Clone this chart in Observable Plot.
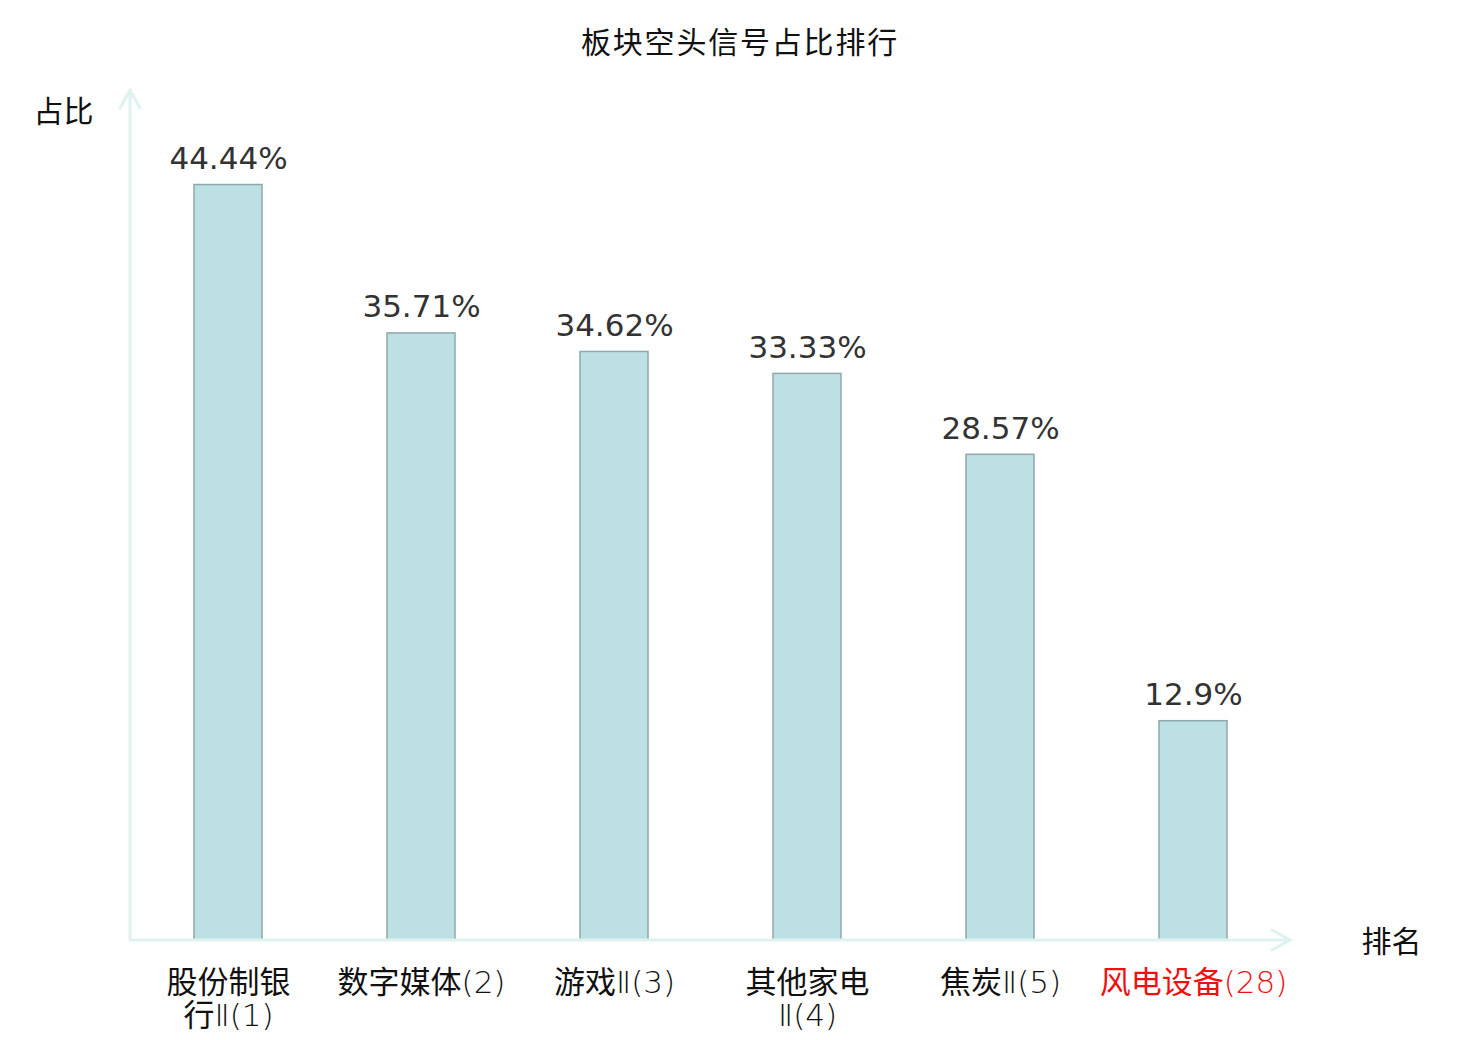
<!DOCTYPE html>
<html><head><meta charset="utf-8">
<script src="https://cdn.jsdelivr.net/npm/d3@7"></script>
<script src="https://cdn.jsdelivr.net/npm/@observablehq/plot@0.6"></script>
<style>
body{margin:0;background:#fff;font-family:"DejaVu Sans","Noto Sans CJK SC",sans-serif;}
#title{height:70px;line-height:80px;text-align:center;font-size:30px;color:#111;letter-spacing:1.8px;font-family:"Noto Sans CJK SC",sans-serif;}
.latin{font-family:"DejaVu Sans";font-weight:200;}
</style></head>
<body>
<div id="title">板块空头信号占比排行</div>
<div id="chart"></div>
<script>
const categories = ["股份制银行Ⅱ(1)", "数字媒体(2)", "游戏Ⅱ(3)", "其他家电Ⅱ(4)", "焦炭Ⅱ(5)", "风电设备(28)"];
const tickLabels = ["股份制银\n行Ⅱ(1)", "数字媒体(2)", "游戏Ⅱ(3)", "其他家电\nⅡ(4)", "焦炭Ⅱ(5)", "风电设备(28)"];
const values = [44.44, 35.71, 34.62, 33.33, 28.57, 12.9];
const highlighted = ["风电设备(28)"];
const yAxisName = "占比";
const xAxisName = "排名";

const data = categories.map((c, i) => ({cat: c, label: tickLabels[i], value: values[i]}));
const axisColor = "#dff2ef";

function axesArrows(index, scales, values, dim) {
  const g = d3.create("svg:g").attr("fill", "none").attr("stroke", axisColor).attr("stroke-width", 3).attr("stroke-linecap", "round");
  const x0 = dim.marginLeft, y0 = dim.height - dim.marginBottom;
  const yTop = dim.marginTop, xEnd = dim.width - dim.marginRight;
  g.append("path").attr("d", `M${x0},${y0}V${yTop}`);
  g.append("path").attr("d", `M${x0 - 10},${yTop + 18}L${x0},${yTop}L${x0 + 10},${yTop + 18}`);
  g.append("path").attr("d", `M${x0},${y0}H${xEnd}`);
  g.append("path").attr("d", `M${xEnd - 18},${y0 - 10}L${xEnd},${y0}L${xEnd - 18},${y0 + 10}`);
  return g.node();
}

const chart = Plot.plot({
  width: 1480,
  height: 970,
  marginLeft: 130,
  marginRight: 190,
  marginTop: 20,
  marginBottom: 100,
  style: {fontFamily: "'DejaVu Sans','Noto Sans CJK SC',sans-serif", background: "#fff"},
  x: {domain: categories, paddingInner: 0.65, paddingOuter: 0.325, axis: null},
  y: {domain: [0, 50], axis: null},
  marks: [
    Plot.barY(data, {x: "cat", y: "value", fill: "#bce0e3", stroke: "#8fa9ab", strokeWidth: 1.5}),
    axesArrows,
    Plot.text(data, {x: "cat", y: "value", text: d => `${d.value}%`, lineAnchor: "bottom", dy: -16, fontSize: 31, fill: "#333"}),
    Plot.text(data, {x: "cat", y: 0, text: "label", lineAnchor: "top", dy: 30, fontSize: 31, lineHeight: 1.04,
      className: "ticklabel", fontFamily: "'Noto Sans CJK SC',sans-serif",
      fill: d => highlighted.includes(d.cat) ? "#ee1111" : "#111"}),
    Plot.text([yAxisName], {frameAnchor: "top-left", dx: -67, dy: 10, fontSize: 30, fill: "#111", textAnchor: "middle",
      fontFamily: "'Noto Sans CJK SC',sans-serif"}),
    Plot.text([xAxisName], {frameAnchor: "bottom-right", dx: 101, dy: 11, fontSize: 30, fill: "#111", textAnchor: "middle",
      fontFamily: "'Noto Sans CJK SC',sans-serif"})
  ]
});

// render the non-CJK part of each tick label in a light Latin face, as in the reference
function splitRuns(node) {
  const s = node.textContent;
  node.textContent = "";
  for (const part of s.split(/([\u4e00-\u9fff]+)/)) {
    if (!part) continue;
    const t = document.createElementNS("http://www.w3.org/2000/svg", "tspan");
    t.textContent = part;
    if (!/[\u4e00-\u9fff]/.test(part)) t.setAttribute("class", "latin");
    node.appendChild(t);
  }
}
d3.select(chart).selectAll("g.ticklabel text").each(function() {
  const lines = this.querySelectorAll("tspan");
  if (lines.length) lines.forEach(splitRuns); else splitRuns(this);
});
document.getElementById("chart").appendChild(chart);
</script>
</body></html>
